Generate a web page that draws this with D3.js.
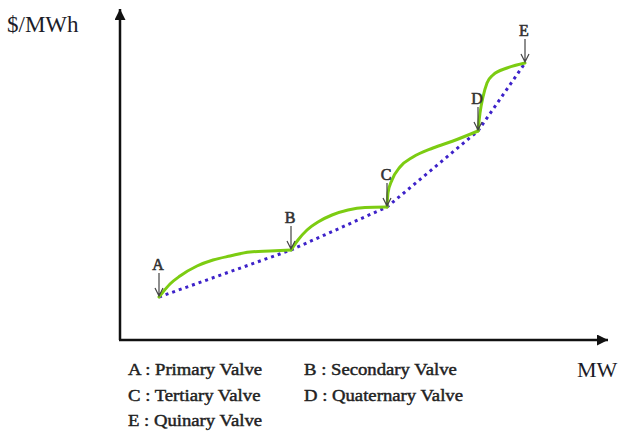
<!DOCTYPE html>
<html>
<head>
<meta charset="utf-8">
<script src="https://cdn.jsdelivr.net/npm/d3@7"></script>
<style>
  body { margin: 0; background: #fff; }
  svg { display: block; }
</style>
</head>
<body>
<svg id="chart"></svg>
<script>
// valve points
const valves = ["A", "B", "C", "D", "E"];
const valveNames = ["Primary Valve", "Secondary Valve", "Tertiary Valve", "Quaternary Valve", "Quinary Valve"];
const valveMW = [39, 171, 267, 358, 405];
const valveCost = [43, 90, 133, 209, 277];

// valve-point loading curve, one array per segment (A-B, B-C, C-D, D-E)
const segMW = [
  [39, 43, 50, 60, 77, 93, 110, 130, 150, 171],
  [171, 178, 187, 198, 212, 228, 245, 267],
  [267, 268, 272, 280, 293, 313, 333, 358],
  [358, 360, 363, 367, 373, 387, 405]
];
const segCost = [
  [43, 48, 56, 64, 74, 80, 84, 88, 89, 90],
  [90, 100, 110, 118, 125, 130, 132.5, 133],
  [133, 147, 160, 173, 183, 192, 199, 209],
  [209, 227, 243, 257, 265, 272, 277]
];

const width = 624, height = 434;
const serif = "'Liberation Serif', 'Times New Roman', serif";
const svg = d3.select("#chart").attr("width", width).attr("height", height);

const x = d3.scaleLinear().domain([0, 488]).range([120, 608]);
const y = d3.scaleLinear().domain([0, 331]).range([340, 9]);

// arrow marker for the axes
svg.append("defs").append("marker")
  .attr("id", "axisArrow")
  .attr("viewBox", "0 0 10 10")
  .attr("refX", 10).attr("refY", 5)
  .attr("markerWidth", 5).attr("markerHeight", 4.4)
  .attr("markerUnits", "strokeWidth")
  .attr("orient", "auto")
  .append("path")
  .attr("d", "M0,0L10,5L0,10Z")
  .attr("fill", "#111");

// axes
svg.append("line")
  .attr("x1", x(0)).attr("y1", y(0))
  .attr("x2", x(0)).attr("y2", y.range()[1])
  .attr("stroke", "#111").attr("stroke-width", 2.5)
  .attr("marker-end", "url(#axisArrow)");
svg.append("line")
  .attr("x1", x(0) - 1).attr("y1", y(0))
  .attr("x2", x.range()[1]).attr("y2", y(0))
  .attr("stroke", "#111").attr("stroke-width", 2.5)
  .attr("marker-end", "url(#axisArrow)");

svg.append("text")
  .attr("x", 7).attr("y", 32)
  .attr("font-family", serif)
  .attr("font-size", 23)
  .attr("fill", "#1c1c28")
  .text("$/MWh");
svg.append("text")
  .attr("x", 577).attr("y", 377)
  .attr("font-family", serif)
  .attr("font-size", 22)
  .attr("fill", "#1c1c28")
  .text("MW");

// dotted line through valve points
const pts = valveMW.map((d, i) => [d, valveCost[i]]);
const line = d3.line()
  .x(d => x(d[0]))
  .y(d => y(d[1]))
  .curve(d3.curveMonotoneX);

svg.append("path")
  .attr("d", d3.line().x(d => x(d[0])).y(d => y(d[1]))(pts))
  .attr("fill", "none")
  .attr("stroke", "#3d22c9")
  .attr("stroke-width", 3)
  .attr("stroke-dasharray", "3,4");

// green valve curve
segMW.forEach((s, k) => {
  const p = s.map((d, i) => [d, segCost[k][i]]);
  svg.append("path")
    .attr("d", line(p))
    .attr("fill", "none")
    .attr("stroke", "#7ccc12")
    .attr("stroke-width", 3)
    .attr("stroke-linecap", "round");
});

// labels and arrows
const marks = svg.selectAll("g.valve")
  .data(pts)
  .enter()
  .append("g")
  .attr("class", "valve")
  .attr("transform", d => "translate(" + x(d[0]) + "," + y(d[1]) + ")");

marks.append("path")
  .attr("d", "M0,-24L0,-1M-4,-9L0,-1L4,-9")
  .attr("fill", "none")
  .attr("stroke", "#444")
  .attr("stroke-width", 1.2);

marks.append("text")
  .attr("x", -1).attr("y", -27)
  .attr("text-anchor", "middle")
  .attr("font-family", serif)
  .attr("font-size", 16)
  .attr("fill", "#333")
  .attr("stroke", "#333")
  .attr("stroke-width", 0.6)
  .text((d, i) => valves[i]);

// legend
svg.selectAll("text.legend")
  .data(valves)
  .enter()
  .append("text")
  .attr("class", "legend")
  .attr("transform", (d, i) => "translate(" + (i % 2 === 0 ? 128 : 304) + "," + (375 + Math.floor(i / 2) * 25.5) + ") scale(1.1,1)")
  .attr("font-family", serif)
  .attr("font-size", 17)
  .attr("fill", "#222")
  .attr("stroke", "#222")
  .attr("stroke-width", 0.45)
  .text((d, i) => d + " : " + valveNames[i]);
</script>
</body>
</html>
